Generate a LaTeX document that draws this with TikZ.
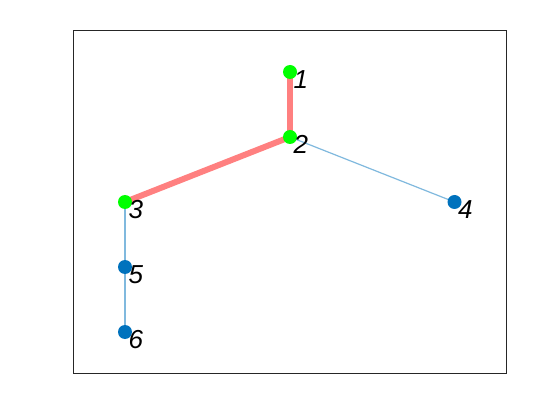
\documentclass[tikz,border=0pt]{standalone}
\usepackage{fontspec}
\setmainfont{Liberation Sans}
\definecolor{edgeblue}{RGB}{128,185,222}
\definecolor{hired}{RGB}{255,128,128}
\definecolor{hgreen}{RGB}{0,255,0}
\definecolor{nblue}{RGB}{0,114,189}
\definecolor{axgray}{RGB}{38,38,38}
\begin{document}
\begin{tikzpicture}[x=0.75pt,y=-0.75pt,
  vert/.style={circle,inner sep=0pt,minimum size=10.5pt},
  gvert/.style={vert,fill=hgreen},
  bvert/.style={vert,fill=nblue},
  lab/.style={anchor=base west,inner sep=0pt,font=\fontsize{19.5}{19.5}\selectfont\itshape},
  thinedge/.style={draw=edgeblue,line width=0.9pt},
  hiedge/.style={draw=hired,line width=4.5pt}]
\useasboundingbox (0,0) rectangle (560,420);
\fill[white] (0,0) rectangle (560,420);
\draw[axgray,line width=0.75pt] (73,31) rectangle (506.5,373);
\coordinate (p1) at (290,72);
\coordinate (p2) at (290,137);
\coordinate (p3) at (125,202);
\coordinate (p4) at (454.5,202);
\coordinate (p5) at (125,267);
\coordinate (p6) at (125,332);
\draw[thinedge] (p2) -- (p4);
\draw[thinedge] (p3) -- (p5);
\draw[thinedge] (p5) -- (p6);
\draw[hiedge] (p1) -- (p2);
\draw[hiedge] (p2) -- (p3);
\node[gvert] (n1) at (p1) {};
\node[gvert] (n2) at (p2) {};
\node[gvert] (n3) at (p3) {};
\node[bvert] (n4) at (p4) {};
\node[bvert] (n5) at (p5) {};
\node[bvert] (n6) at (p6) {};
\node[lab] (l1) at ([xshift=2.5pt,yshift=-12.5pt]n1.center) {1};
\node[lab] (l2) at ([xshift=2.5pt,yshift=-12.5pt]n2.center) {2};
\node[lab] (l3) at ([xshift=2.5pt,yshift=-12.5pt]n3.center) {3};
\node[lab] (l4) at ([xshift=2.5pt,yshift=-12.5pt]n4.center) {4};
\node[lab] (l5) at ([xshift=2.5pt,yshift=-12.5pt]n5.center) {5};
\node[lab] (l6) at ([xshift=2.5pt,yshift=-12.5pt]n6.center) {6};
\end{tikzpicture}
\end{document}
